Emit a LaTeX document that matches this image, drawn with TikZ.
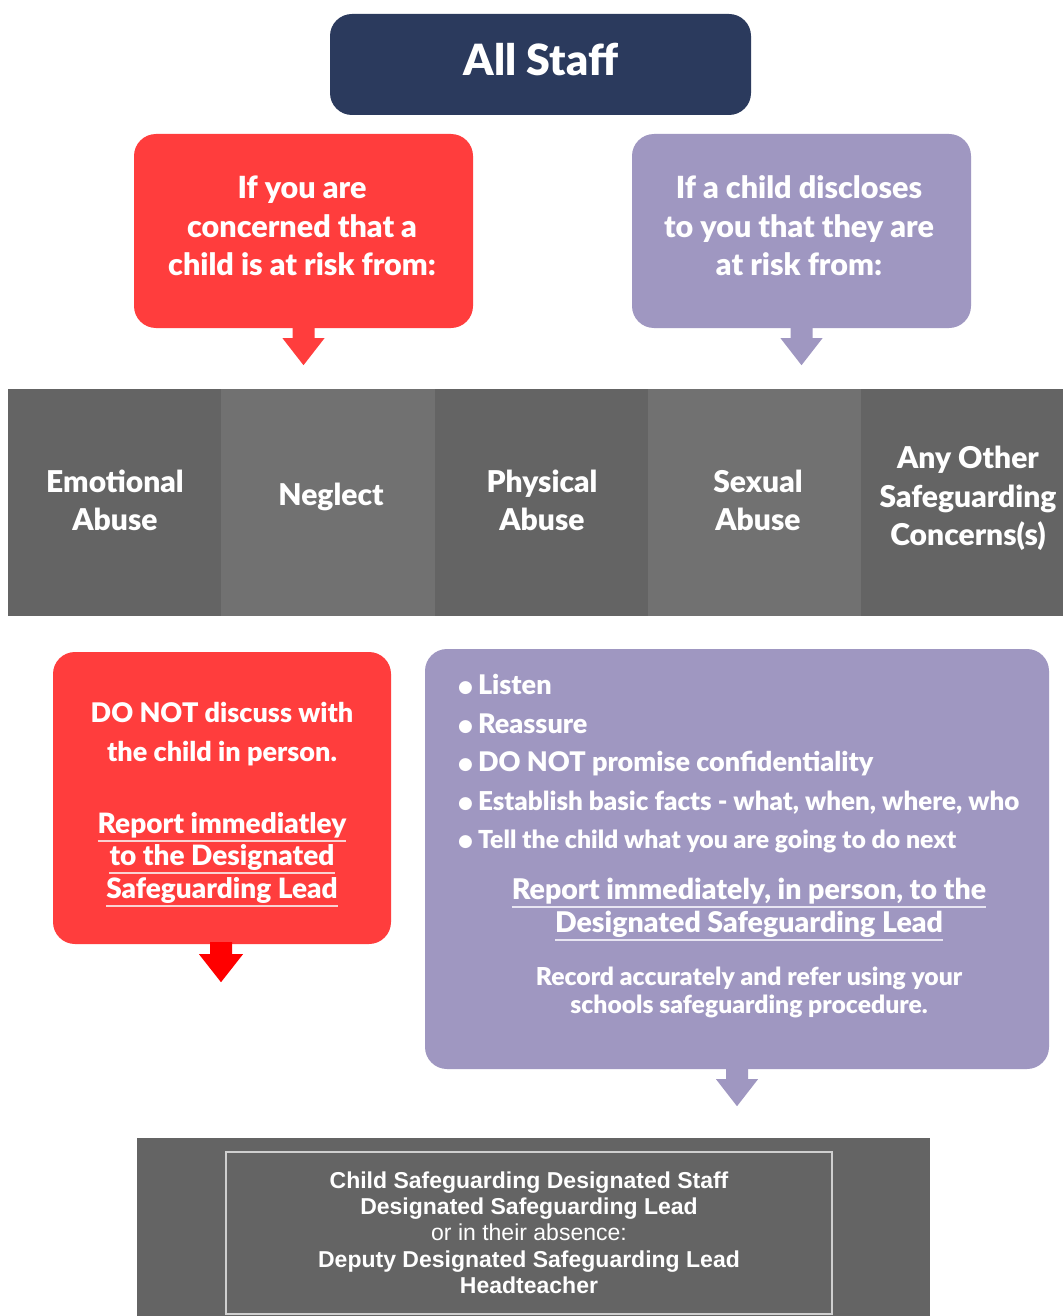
\documentclass[tikz,border=0pt]{standalone}
\usepackage{fontspec}
\setmainfont{Lato}[BoldFont={Lato Black}]
\newfontfamily\arialf{Liberation Sans}
\newfontfamily\dejavuf{DejaVu Sans}
\usetikzlibrary{calc}
\definecolor{navy}{HTML}{2B3A5D}
\definecolor{redbox}{HTML}{FF3D3D}
\definecolor{purplebox}{HTML}{9F97C1}
\definecolor{grayA}{HTML}{646464}
\definecolor{grayB}{HTML}{717171}
\definecolor{ulred}{HTML}{F9D2D2}
\definecolor{ulpurple}{HTML}{E8E5F2}
\definecolor{innerline}{HTML}{CFCFCF}
\tikzset{
  box/.style={rounded corners=22pt, inner sep=0pt, draw=none},
  cell/.style={inner sep=0pt, minimum width=214pt, minimum height=227pt, draw=none},
  txt/.style={anchor=base, inner sep=0pt, text=white, font=\bfseries\fontsize{28.5}{34}\selectfont},
  txtT/.style={txt, font=\bfseries\fontsize{30.5}{36}\selectfont},
  txtB/.style={txt, font=\bfseries\fontsize{30}{36}\selectfont},
  txtS/.style={txt, font=\bfseries\fontsize{27}{32}\selectfont},
  txtXS/.style={txt, font=\bfseries\fontsize{24.7}{30}\selectfont},
  bul/.style={txtS, anchor=base west},
  bot/.style={anchor=base, inner sep=0pt, text=white, font=\arialf\bfseries\fontsize{23}{27}\selectfont},
  botR/.style={bot, font=\arialf\fontsize{23}{27}\selectfont},
  ulR/.style={draw=ulred, line width=2pt},
  ulP/.style={draw=ulpurple, line width=2pt},
}
\newcommand\dnarrow[2]{%
  \fill[#2] ($(#1.south)+(-11,-2)$) -- ++(22,0) -- ++(0,12) -- ++(10,0)
    -- ++(-21,27) -- ++(-21,-27) -- ++(10,0) -- cycle;}
\newcommand\ulnode[2]{%
  \draw[#2] ($(#1.base west)+(0,8)$) -- ($(#1.base east)+(0,8)$);}
\newcommand\bulletsym{\raisebox{2pt}{\dejavuf\fontsize{17}{20}\selectfont ●}\hspace{5pt}}
\begin{document}
\begin{tikzpicture}[x=1pt,y=-1pt]
\useasboundingbox (0,0) rectangle (1063,1316);
\fill[white] (0,0) rectangle (1063,1316);

% All staff
\node[box, fill=navy, minimum width=421pt, minimum height=101pt] (staff) at (540.5,64.5) {};
\node[txt, font=\bfseries\fontsize{43}{48}\selectfont] (stafft) at (541,76) {All Staff};

% top boxes
\node[box, fill=redbox, minimum width=339pt, minimum height=194pt] (rtop) at (303.5,231) {};
\node[box, fill=purplebox, minimum width=339pt, minimum height=194pt] (ptop) at (801.5,231) {};
\node[txtT] (r1) at (302,198) {If you are};
\node[txtT] (r2) at (302,237) {concerned that a};
\node[txtT] (r3) at (302,275) {child is at risk from:};
\node[txtT] (p1) at (799,198) {If a child discloses};
\node[txtT] (p2) at (799,237) {to you that they are};
\node[txtT] (p3) at (799,275) {at risk from:};
\dnarrow{rtop}{redbox}
\dnarrow{ptop}{purplebox}

% band
\node[cell, fill=grayA] (c1) at (114.5,502.5) {};
\node[cell, fill=grayB] (c2) at (328,502.5) {};
\node[cell, fill=grayA] (c3) at (541.5,502.5) {};
\node[cell, fill=grayB] (c4) at (755,502.5) {};
\node[cell, fill=grayA, minimum width=202pt] (c5) at (962,502.5) {};
\node[txtB] (e1) at (115,492) {Emotional};
\node[txtB] (e2) at (115,530) {Abuse};
\node[txtB] (n1) at (331,505) {Neglect};
\node[txtB] (ph1) at (542,492) {Physical};
\node[txtB] (ph2) at (542,530) {Abuse};
\node[txtB] (s1) at (758,492) {Sexual};
\node[txtB] (s2) at (758,530) {Abuse};
\node[txtB] (a1) at (968,468) {Any Other};
\node[txtB] (a2) at (968,507) {Safeguarding};
\node[txtB] (a3) at (968,545) {Concerns(s)};

% red box 2
\node[box, fill=redbox, minimum width=338pt, minimum height=292pt] (rbox) at (222,798) {};
\node[txtS] (d1) at (222,722) {DO NOT discuss with};
\node[txtS] (d2) at (222,761) {the child in person.};
\node[txt, font=\bfseries\fontsize{28}{34}\selectfont] (d3) at (222,833) {Report immediatley};
\node[txt, font=\bfseries\fontsize{28}{34}\selectfont] (d4) at (222,865) {to the Designated};
\node[txt, font=\bfseries\fontsize{28}{34}\selectfont] (d5) at (222,898) {Safeguarding Lead};
\ulnode{d3}{ulR}
\ulnode{d4}{ulR}
\ulnode{d5}{ulR}
\fill[red] ($(rbox.south)+(-12,-2)$) -- ++(22,0) -- ++(0,12) -- ++(11,0)
    -- ++(-22,28) -- ++(-22,-28) -- ++(11,0) -- cycle;

% purple box 2
\node[box, fill=purplebox, minimum width=624pt, minimum height=420pt] (pbox) at (737,859) {};
\node[bul] (b1) at (458,694) {\bulletsym Listen};
\node[bul] (b2) at (458,733) {\bulletsym Reassure};
\node[bul] (b3) at (458,771) {\bulletsym DO NOT promise confidentiality};
\node[bul, font=\bfseries\fontsize{26}{31}\selectfont] (b4) at (458,810) {\bulletsym Establish basic facts - what, when, where, who};
\node[bul, font=\bfseries\fontsize{24.8}{30}\selectfont] (b5) at (458,848) {\bulletsym Tell the child what you are going to do next};
\node[txt] (q1) at (749,899) {Report immediately, in person, to the};
\node[txt] (q2) at (749,932) {Designated Safeguarding Lead};
\ulnode{q1}{ulP}
\ulnode{q2}{ulP}
\node[txtXS] (q3) at (749,985) {Record accurately and refer using your};
\node[txtXS] (q4) at (749,1013) {schools safeguarding procedure.};
\dnarrow{pbox}{purplebox}

% bottom
\node[inner sep=0pt, fill=grayA, minimum width=793pt, minimum height=178pt] (bottom) at (533,1227) {};
\node[inner sep=0pt, draw=innerline, line width=1.2pt, minimum width=606pt, minimum height=162pt] (inner) at (529,1233) {};
\node[bot] (t1) at (529,1188) {Child Safeguarding Designated Staff};
\node[bot] (t2) at (529,1214) {Designated Safeguarding Lead};
\node[botR] (t3) at (529,1240) {or in their absence:};
\node[bot] (t4) at (529,1267) {Deputy Designated Safeguarding Lead};
\node[bot] (t5) at (529,1293) {Headteacher};
\end{tikzpicture}
\end{document}
